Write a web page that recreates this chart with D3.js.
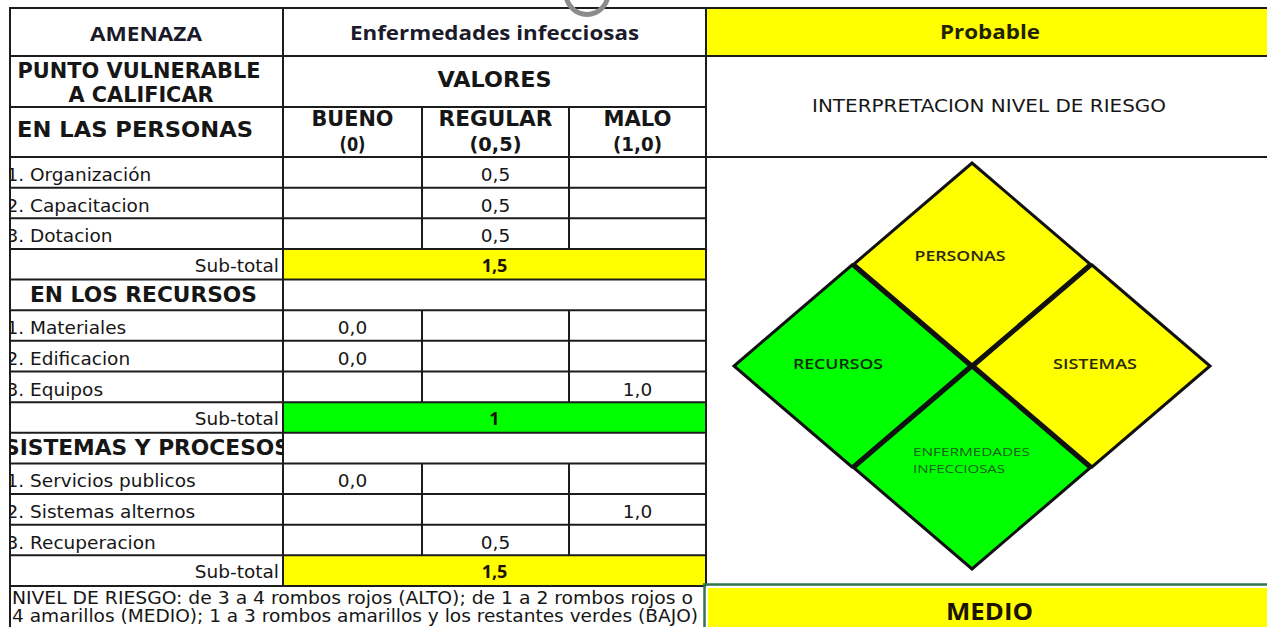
<!DOCTYPE html>
<html><head><meta charset="utf-8">
<script src="https://cdn.jsdelivr.net/npm/d3@7"></script>
<style>html,body{margin:0;padding:0;background:#fff;overflow:hidden}svg{display:block}</style>
</head><body>
<svg id="chart" width="1267" height="627"></svg>
<script>
// ---------------- DATA ----------------
const amenazaTitle = "AMENAZA";
const amenaza = "Enfermedades infecciosas";
const probabilidad = "Probable";
const puntoVulnerable = ["PUNTO VULNERABLE", "A CALIFICAR"];
const valoresTitle = "VALORES";
const columnLabels = ["BUENO", "REGULAR", "MALO"];
const columnValues = [0, 0.5, 1];
const columnWeightLabels = ["(0)", "(0,5)", "(1,0)"];
const sectionTitles = ["EN LAS PERSONAS", "EN LOS RECURSOS", "SISTEMAS Y PROCESOS"];
const personasItems = ["1. Organización", "2. Capacitacion", "3. Dotacion"];
const personasValues = [0.5, 0.5, 0.5];
const recursosItems = ["1. Materiales", "2. Edificacion", "3. Equipos"];
const recursosValues = [0.0, 0.0, 1.0];
const sistemasItems = ["1. Servicios publicos", "2. Sistemas alternos", "3. Recuperacion"];
const sistemasValues = [0.0, 1.0, 0.5];
const subtotalLabel = "Sub-total";
const interpretacion = "INTERPRETACION NIVEL DE RIESGO";
const romboLabels = ["PERSONAS", "RECURSOS", "SISTEMAS", "ENFERMEDADES", "INFECCIOSAS"];
const amenazaRomboValue = 1;          // rombo de la amenaza: verde
const nivelRiesgo = "MEDIO";
const notaNivel = [
  "NIVEL DE RIESGO: de 3 a 4 rombos rojos (ALTO); de 1 a 2 rombos rojos o",
  "4 amarillos (MEDIO); 1 a 3 rombos amarillos y los restantes verdes (BAJO)"
];

// ---------------- LAYOUT / STYLE ----------------
const L = {left: 10, col1: 283, tRight: 706, right: 1267, top: 8, h1: 56, h2: 107, h3: 157, bottom: 586};
const F_PIX = "'DejaVu Sans', sans-serif";
const F_CAL = "'Open Sans', sans-serif";
const F_NOTE = "'DejaVu Sans Condensed', 'DejaVu Sans', sans-serif";
const INK = "#161616";
const LINE = "#1c1c1c";

const svg = d3.select("#chart");
const defs = svg.append("defs");
function clip(id, x, y, w, h) {
  defs.append("clipPath").attr("id", id).append("rect").attr("x", x).attr("y", y).attr("width", w).attr("height", h);
  return `url(#${id})`;
}
const clipCol1 = clip("c1", L.left + 1, 0, L.col1 - L.left - 1, 627);

function T(g, x, y, s, o) {
  const t = g.append("text").attr("x", x).attr("y", y).text(s)
    .attr("font-family", o.f || F_PIX).attr("font-size", o.s || 18.5)
    .attr("font-weight", o.w || 400).attr("text-anchor", o.a || "middle")
    .attr("fill", o.c || INK);
  if (o.len) t.attr("textLength", o.len).attr("lengthAdjust", "spacingAndGlyphs");
  if (o.clip) t.attr("clip-path", o.clip);
  return t;
}

// ---------------- SCALES ----------------
const fmt1 = v => v.toFixed(1).replace(".", ",");
const fmtSub = v => String(v).replace(".", ",");
const colorScale = d3.scaleThreshold().domain([1.01, 2.01]).range(["#00FF00", "#FFFF00", "#FF0000"]);

const groups = [
  {items: personasItems, values: personasValues},
  {items: recursosItems, values: recursosValues, title: sectionTitles[1]},
  {items: sistemasItems, values: sistemasValues, title: sectionTitles[2]}
];
const rows = [];
groups.forEach(g => {
  if (g.title) rows.push({type: "section", label: g.title});
  g.items.forEach((it, i) => rows.push({type: "item", label: it, value: g.values[i]}));
  rows.push({type: "subtotal", value: d3.sum(g.values)});
});
const subtotals = rows.filter(r => r.type === "subtotal").map(r => r.value);

const y = d3.scaleBand().domain(d3.range(rows.length)).range([L.h3, L.bottom]);
const colLeft = d3.scaleOrdinal().domain(columnValues).range([L.col1, 422, 569]);
const colRight = d3.scaleOrdinal().domain(columnValues).range([422, 569, L.tRight]);
const colMid = v => (colLeft(v) + colRight(v)) / 2;

// ---------------- FILLS ----------------
const fills = svg.append("g");
fills.append("rect").attr("x", L.tRight).attr("y", L.top).attr("width", L.right - L.tRight).attr("height", L.h1 - L.top).attr("fill", "#FFFF00");
rows.forEach((r, i) => {
  if (r.type === "subtotal")
    fills.append("rect").attr("x", L.col1).attr("y", y(i)).attr("width", L.tRight - L.col1).attr("height", y.bandwidth()).attr("fill", colorScale(r.value));
});
fills.append("rect").attr("x", 708).attr("y", 588).attr("width", L.right - 708).attr("height", 40).attr("fill", "#FFFF00");

// ---------------- GRID ----------------
const grid = svg.append("g").attr("stroke", LINE).attr("stroke-width", 2).attr("fill", "none");
function hl(y0, x0, x1) { grid.append("line").attr("x1", x0).attr("x2", x1).attr("y1", y0).attr("y2", y0); }
function vl(x0, y0, y1) { grid.append("line").attr("x1", x0).attr("x2", x0).attr("y1", y0).attr("y2", y1); }
hl(L.top, L.left - 1, L.right);
hl(L.h1, L.left, L.right);
hl(L.h2, L.left, L.tRight);
hl(L.h3, L.left, L.right);
rows.forEach((r, i) => hl(y(i) + y.bandwidth(), L.left, L.tRight));
vl(L.left, L.top, 627);
vl(L.col1, L.top, L.bottom);
vl(L.tRight, L.top, L.bottom);
[0.5, 1].forEach(v => vl(colLeft(v), L.h2, L.h3));
rows.forEach((r, i) => {
  if (r.type === "item") [0.5, 1].forEach(v => vl(colLeft(v), y(i), y(i) + y.bandwidth()));
});
// selection border around result cell
const sel = svg.append("g").attr("stroke", "#2f7550").attr("stroke-width", 2.5);
sel.append("line").attr("x1", 703).attr("x2", L.right).attr("y1", 584.5).attr("y2", 584.5);
sel.append("line").attr("x1", 704.5).attr("x2", 704.5).attr("y1", 584).attr("y2", 627);

// loading ring artefact
svg.append("circle").attr("cx", 587).attr("cy", -6.5).attr("r", 21).attr("fill", "none").attr("stroke", "#8c8c8c").attr("stroke-width", 5);

// ---------------- HEADER TEXT ----------------
const tx = svg.append("g");
T(tx, 146, 41, amenazaTitle, {f: F_CAL, s: 19.5, w: 700, len: 112, c: "#1a1a2a"});
T(tx, (L.col1 + L.tRight) / 2, 40, amenaza, {f: F_CAL, s: 19.5, w: 700, len: 289, c: "#1a1a2a"});
T(tx, 990, 39, probabilidad, {f: F_CAL, s: 19.5, w: 700, len: 100, c: "#222200"});
T(tx, 139, 78, puntoVulnerable[0], {s: 20.5, w: 700, len: 243});
T(tx, 141, 102, puntoVulnerable[1], {s: 20.5, w: 700, len: 145});
T(tx, 135, 137, sectionTitles[0], {s: 20.5, w: 700, len: 236});
T(tx, (L.col1 + L.tRight) / 2, 87, valoresTitle, {s: 20.5, w: 700, len: 114});
const colW = [82, 114, 68], colWW = [26, 52, 49];
columnValues.forEach((v, i) => {
  T(tx, colMid(v), 126, columnLabels[i], {s: 20.5, w: 700, len: colW[i]});
  T(tx, colMid(v), 151, columnWeightLabels[i], {s: 19, w: 700, len: colWW[i]});
});
T(tx, 989, 112, interpretacion, {s: 18.5, len: 354});

// ---------------- ROW TEXT ----------------
rows.forEach((r, i) => {
  const top = y(i);
  if (r.type === "item") {
    T(tx, 6.5, top + 24, r.label, {a: "start", clip: clipCol1});
    T(tx, colMid(r.value), top + 24, fmt1(r.value), {});
  } else if (r.type === "subtotal") {
    T(tx, 279, top + 23, subtotalLabel, {a: "end"});
    T(tx, (L.col1 + L.tRight) / 2, top + 23, fmtSub(r.value), {f: F_CAL, s: 18, w: 700, c: "#1e1400"});
  } else {
    const wide = r.label.length > 16;
    T(tx, wide ? 147 : 143.5, top + 22, r.label, {s: 20.5, w: 700, len: wide ? 286 : 227, clip: clipCol1});
  }
});

// ---------------- NOTE ----------------
T(tx, 12, 603.5, notaNivel[0], {f: F_NOTE, s: 17, a: "start", len: 681});
T(tx, 12, 621.5, notaNivel[1], {f: F_NOTE, s: 17, a: "start", len: 686});

// ---------------- RESULT ----------------
T(tx, 989.5, 620, nivelRiesgo, {f: F_CAL, s: 22.5, w: 700, len: 87, c: "#1c1400"});

// ---------------- DIAMOND ----------------
const D = {cx: 972, cy: 366, ox: 120, oy: 102, hw: 118, hh: 101};
const rombos = [
  {value: subtotals[0], dx: 0, dy: -1},
  {value: subtotals[1], dx: -1, dy: 0},
  {value: subtotals[2], dx: 1, dy: 0},
  {value: amenazaRomboValue, dx: 0, dy: 1}
];
const dg = svg.append("g");
dg.selectAll("polygon").data(rombos).join("polygon")
  .attr("points", d => {
    const x = D.cx + d.dx * D.ox, yy = D.cy + d.dy * D.oy;
    return [[x, yy - D.hh], [x + D.hw, yy], [x, yy + D.hh], [x - D.hw, yy]].join(" ");
  })
  .attr("fill", d => colorScale(d.value))
  .attr("stroke", "#111").attr("stroke-width", 3).attr("stroke-linejoin", "miter");

const labelPos = [
  {x: 960, y: 261, len: 91, s: 14.5, w: 600, a: "middle", c: "#2a2a10"},
  {x: 838, y: 369, len: 90, s: 14.5, w: 600, a: "middle", c: "#102a10"},
  {x: 1095, y: 369, len: 84, s: 14.5, w: 600, a: "middle", c: "#2a2a10"},
  {x: 913, y: 455.5, len: 117, s: 11.5, w: 400, a: "start", c: "#1b5e1b"},
  {x: 913, y: 473, len: 92, s: 11.5, w: 400, a: "start", c: "#1b5e1b"}
];
romboLabels.forEach((lab, i) => {
  const p = labelPos[i];
  T(dg, p.x, p.y, lab, {f: F_CAL, s: p.s, w: p.w, a: p.a, len: p.len, c: p.c});
});
</script>
</body></html>
